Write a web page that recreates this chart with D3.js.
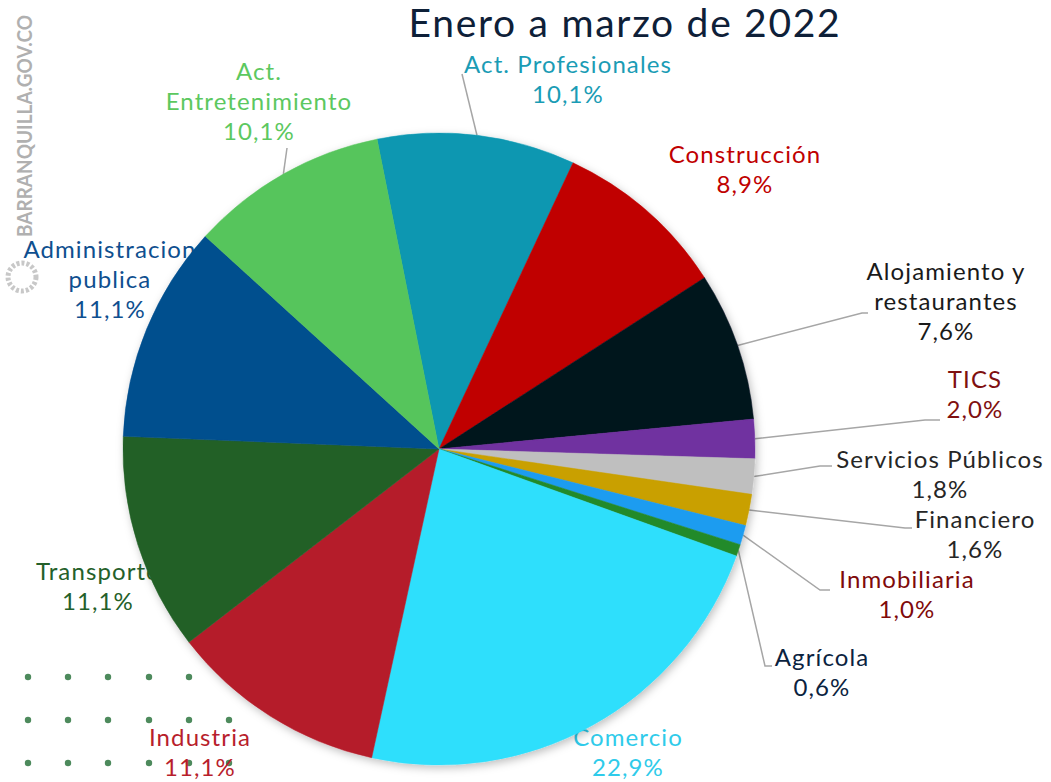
<!DOCTYPE html>
<html>
<head>
<meta charset="utf-8">
<script src="https://cdn.jsdelivr.net/npm/d3@7"></script>
<style>
  body { margin: 0; background: #fff; }
  svg { display: block; font-family: Lato, "Open Sans", sans-serif; }
</style>
</head>
<body>
<div id="chart"></div>
<script>
// data, clockwise from the slice after 12 o'clock
const categories = ["Act. Profesionales", "Construcción", "Alojamiento y restaurantes", "TICS",
    "Servicios Públicos", "Financiero", "Inmobiliaria", "Agrícola", "Comercio", "Industria",
    "Transporte", "Administracion publica", "Act. Entretenimiento"];
const shares = [10.1, 8.9, 7.6, 2.0, 1.8, 1.6, 1.0, 0.6, 22.9, 11.1, 11.1, 11.1, 10.1];
const labelLines = [["Act. Profesionales"], ["Construcción"], ["Alojamiento y", "restaurantes"], ["TICS"],
    ["Servicios Públicos"], ["Financiero"], ["Inmobiliaria"], ["Agrícola"], ["Comercio"], ["Industria"],
    ["Transporte"], ["Administracion", "publica"], ["Act.", "Entretenimiento"]];
const title = "Enero a marzo de 2022";

const sliceColors = ["#0997b1", "#c00000", "#02131f", "#7030a0", "#bfbfbf", "#c9a000", "#1e9cf0",
    "#238a2c", "#2edffc", "#b51f2c", "#246128", "#004f8e", "#57c55c"];
const labelColors = ["#1a9cb5", "#c00000", "#1a1a1a", "#7f1010", "#262626", "#262626", "#7f0a0a",
    "#0b2340", "#2fcbea", "#b81e2c", "#24602a", "#0f4f8f", "#5cc85f"];

// label layout: centre x, first baseline; leader bend points (if any)
const labelLayout = [
    {x: 568, y: 73, leader: [[462, 74]]},
    {x: 745, y: 163},
    {x: 946, y: 280, leader: [[862, 313], [868, 313]]},
    {x: 975, y: 388, leader: [[925, 420], [940, 420]]},
    {x: 940, y: 468, leader: [[820, 466], [832, 466]]},
    {x: 975, y: 528, leader: [[905, 528], [912, 528]]},
    {x: 907, y: 588, leader: [[820, 590], [830, 590]]},
    {x: 822, y: 666, leader: [[765, 666], [772, 666]]},
    {x: 628, y: 746},
    {x: 200, y: 746},
    {x: 98, y: 580},
    {x: 110, y: 258},
    {x: 259, y: 80, leader: [[287, 148]]}
];

const W = 1051, H = 782;
const cx = 439, cy = 449, radius = 316;
const startDeg = -11.3;
const lineH = 30;
const fmt = v => d3.format(".1f")(v).replace(".", ",") + "%";

const svg = d3.select("#chart").append("svg")
    .attr("width", W)
    .attr("height", H);

const defs = svg.append("defs");
const shadow = defs.append("filter").attr("id", "shadow")
    .attr("x", "-10%").attr("y", "-10%").attr("width", "120%").attr("height", "120%");
shadow.append("feDropShadow")
    .attr("dx", 2).attr("dy", 3).attr("stdDeviation", 4)
    .attr("flood-color", "#000").attr("flood-opacity", 0.25);

// watermark
svg.append("text")
    .attr("transform", "translate(32,237) rotate(-90)")
    .attr("textLength", 222)
    .attr("lengthAdjust", "spacingAndGlyphs")
    .style("font-size", "21px")
    .style("font-weight", "bold")
    .style("fill", "#b0b0b0")
    .text("BARRANQUILLA.GOV.CO");
svg.append("circle")
    .attr("cx", 22).attr("cy", 277).attr("r", 14)
    .attr("fill", "none").attr("stroke", "#c8c8c8").attr("stroke-width", 5)
    .attr("stroke-dasharray", "3,2");

// decorative dot grid
const dotCols = [28, 68, 108, 149, 189, 229];
const dotRows = [677, 720, 763];
dotRows.forEach((ry, ri) => {
    svg.append("g").selectAll("circle")
        .data(dotCols.filter((c, ci) => ri > 0 || ci < 5))
        .join("circle")
        .attr("cx", d => d).attr("cy", ry).attr("r", 3.2)
        .attr("fill", "#4d8a5c");
});

const dataReady = categories.map((c, i) => ({name: c, value: shares[i], i: i}));

const pie = d3.pie()
    .sort(null)
    .value(d => d.value)
    .startAngle(startDeg * Math.PI / 180)
    .endAngle((startDeg + 360) * Math.PI / 180);
const arcs = pie(dataReady);

const arc = d3.arc().innerRadius(0).outerRadius(radius);

const labels = svg.append("g");
const lines = svg.append("g");
const g = svg.append("g")
    .attr("transform", `translate(${cx},${cy})`)
    .attr("filter", "url(#shadow)");

g.selectAll("path")
    .data(arcs)
    .join("path")
    .attr("d", arc)
    .attr("fill", d => sliceColors[d.data.i])
    .attr("stroke", d => sliceColors[d.data.i])
    .attr("stroke-width", 0.5);

// leader lines
arcs.forEach(d => {
    const lay = labelLayout[d.data.i];
    if (!lay.leader) return;
    const a = (d.startAngle + d.endAngle) / 2;
    const p0 = [cx + radius * Math.sin(a), cy - radius * Math.cos(a)];
    lines.append("path")
        .attr("d", d3.line()([p0].concat(lay.leader)))
        .attr("fill", "none")
        .attr("stroke", "#a6a6a6")
        .attr("stroke-width", 1.5);
});

// labels (drawn below the pie, as in the reference)
arcs.forEach(d => {
    const i = d.data.i;
    const lay = labelLayout[i];
    const rows = labelLines[i].concat([fmt(d.data.value)]);
    const t = labels.append("text")
        .attr("text-anchor", "middle")
        .style("font-size", "24px")
        .style("letter-spacing", "1.1px")
        .style("fill", labelColors[i]);
    rows.forEach((r, k) => {
        t.append("tspan").attr("x", lay.x).attr("y", lay.y + k * lineH).text(r);
    });
});

svg.append("text")
    .attr("x", 625)
    .attr("y", 37)
    .attr("text-anchor", "middle")
    .style("font-size", "39px")
    .style("letter-spacing", "1.7px")
    .style("fill", "#0e2038")
    .text(title);
</script>
</body>
</html>
